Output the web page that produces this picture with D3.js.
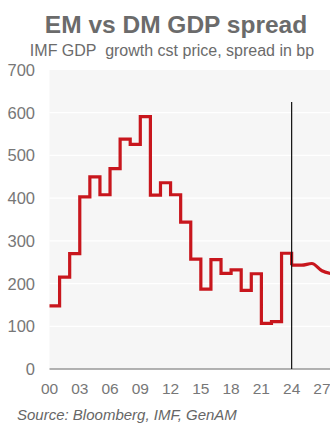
<!DOCTYPE html>
<meta charset="utf-8">
<style>
  body { margin: 0; background: #fff; }
  text { font-family: "Liberation Sans", Arial, sans-serif; }
</style>
<script src="https://d3js.org/d3.v7.min.js"></script>
<div id="chart"></div>
<script>
// historical annual spread (bp), drawn as steps
var years = [2000, 2001, 2002, 2003, 2004, 2005, 2006, 2007, 2008, 2009, 2010, 2011,
             2012, 2013, 2014, 2015, 2016, 2017, 2018, 2019, 2020, 2021, 2022, 2023];
var spread = [148, 215, 270, 403, 450, 408, 469, 538, 526, 591, 407, 436,
              408, 344, 257, 187, 256, 224, 232, 184, 223, 107, 111, 271];
// IMF projections
var fcYears = [2024, 2025, 2026, 2027, 2028];
var fcSpread = [243, 243, 247, 230, 223];
var yTicks = [0, 100, 200, 300, 400, 500, 600, 700];
var xTicks = [2000, 2003, 2006, 2009, 2012, 2015, 2018, 2021, 2024, 2027];
var cutYear = 2024, cutTop = 625;

var width = 330, height = 423;
var margin = {top: 70, right: -2, bottom: 54, left: 49.5};

var svg = d3.select("#chart").append("svg")
  .attr("width", width)
  .attr("height", height);

var x = d3.scaleLinear().domain([2000, 2028]).range([margin.left, width - margin.right]);
var y = d3.scaleLinear().domain([0, 700]).range([height - margin.bottom, margin.top]);

// titles
svg.append("text")
  .attr("x", 176).attr("y", 33)
  .attr("text-anchor", "middle")
  .attr("font-size", 24.5).attr("font-weight", "bold")
  .attr("fill", "#6b6b6b")
  .text("EM vs DM GDP spread");
svg.append("text")
  .attr("x", 172).attr("y", 56)
  .attr("text-anchor", "middle")
  .attr("font-size", 16)
  .attr("fill", "#6b6b6b")
  .style("white-space", "pre")
  .text("IMF GDP  growth cst price, spread in bp");

// plot background
svg.append("rect")
  .attr("x", x(2000)).attr("y", y(700))
  .attr("width", width - x(2000)).attr("height", y(0) - y(700))
  .attr("fill", "#f6f6f6");

// gridlines
svg.selectAll(".grid").data(yTicks.slice(1, -1)).enter()
  .append("line")
  .attr("x1", x(2000)).attr("x2", width)
  .attr("y1", function(d) { return y(d); })
  .attr("y2", function(d) { return y(d); })
  .attr("stroke", "#fff").attr("stroke-width", 1.2);

// y labels
svg.selectAll(".ylab").data(yTicks).enter()
  .append("text")
  .attr("x", 35)
  .attr("y", function(d) { return y(d); })
  .attr("dy", "0.36em")
  .attr("text-anchor", "end")
  .attr("font-size", 16.5)
  .attr("fill", "#777")
  .text(function(d) { return d; });

// x labels
svg.selectAll(".xlab").data(xTicks).enter()
  .append("text")
  .attr("x", function(d) { return x(d); })
  .attr("y", y(0) + 19)
  .attr("dy", "0.36em")
  .attr("text-anchor", "middle")
  .attr("font-size", 15.5)
  .attr("fill", "#777")
  .text(function(d) { return String(d % 100).padStart(2, "0"); });

// zero axis
svg.append("line")
  .attr("x1", x(2000)).attr("x2", width)
  .attr("y1", y(0)).attr("y2", y(0))
  .attr("stroke", "#999").attr("stroke-width", 1.5);

// history step line (+ first projected point to close last step)
var hist = years.map(function(d, i) { return [d, spread[i]]; });
hist.push([fcYears[0], fcSpread[0]]);
var stepLine = d3.line()
  .x(function(d) { return x(d[0]); })
  .y(function(d) { return y(d[1]); })
  .curve(d3.curveStepAfter);

var fc = fcYears.map(function(d, i) { return [d, fcSpread[i]]; });
var smoothLine = d3.line()
  .x(function(d) { return x(d[0]); })
  .y(function(d) { return y(d[1]); })
  .curve(d3.curveMonotoneX);

svg.append("path")
  .attr("d", stepLine(hist))
  .attr("fill", "none")
  .attr("stroke", "#c8161d")
  .attr("stroke-width", 3.2);

svg.append("path")
  .attr("d", smoothLine(fc))
  .attr("fill", "none")
  .attr("stroke", "#c8161d")
  .attr("stroke-width", 3.2);

// forecast cut
svg.append("line")
  .attr("x1", x(cutYear)).attr("x2", x(cutYear))
  .attr("y1", y(cutTop)).attr("y2", y(0))
  .attr("stroke", "#111").attr("stroke-width", 1.2);

// source
svg.append("text")
  .attr("x", 17).attr("y", 420)
  .attr("font-size", 15).attr("font-style", "italic")
  .attr("fill", "#666")
  .text("Source: Bloomberg, IMF, GenAM");
</script>
